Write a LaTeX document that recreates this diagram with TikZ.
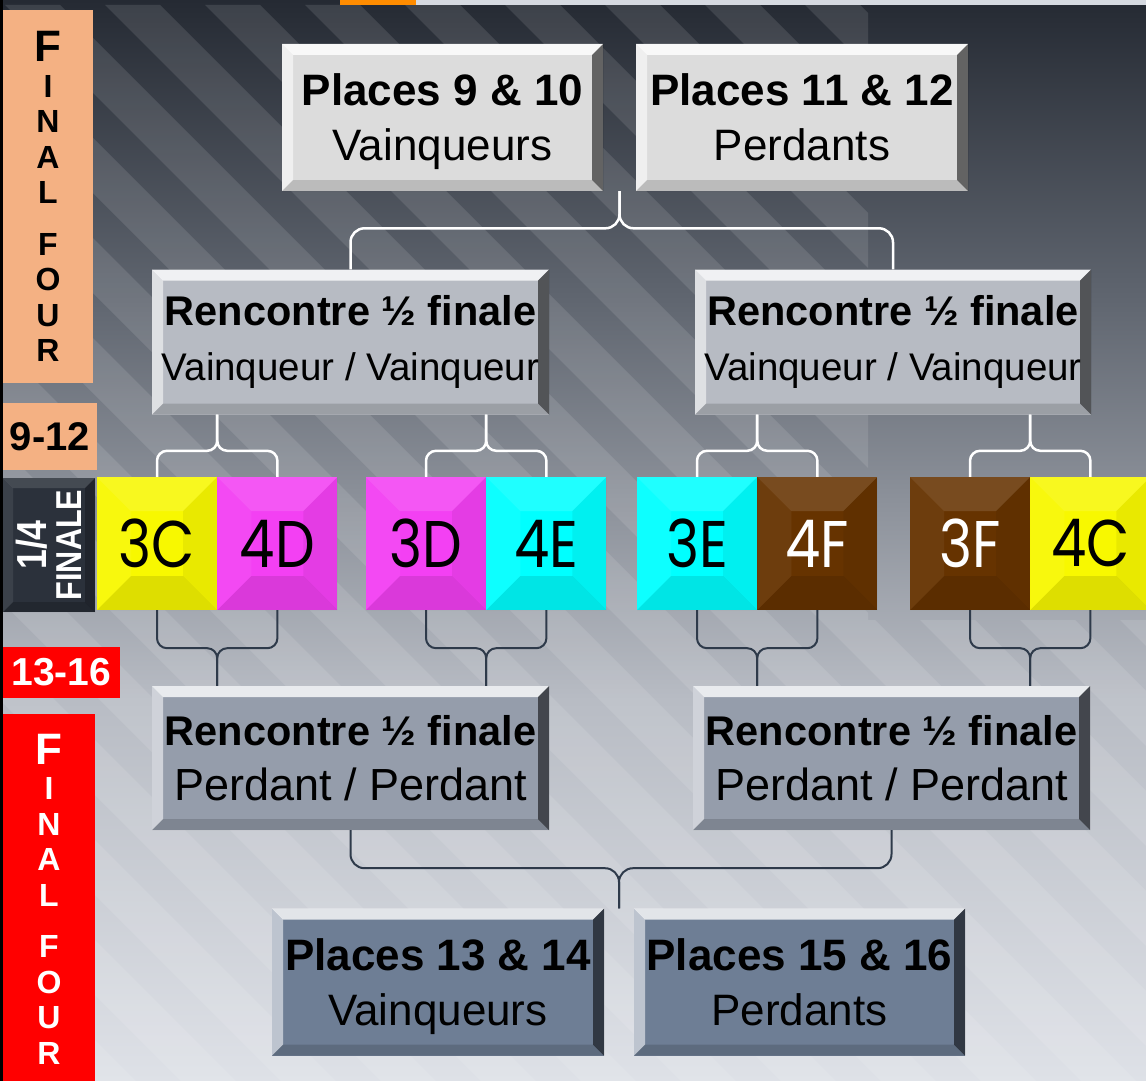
\documentclass[tikz,border=0pt]{standalone}
\usepackage{fontspec}
\setmainfont{Liberation Sans}
\newfontfamily\narrowfont[FakeStretch=0.85]{Liberation Sans}
\newfontfamily\tilefont[FakeStretch=0.85]{Poppins}
\usetikzlibrary{calc,positioning}

\definecolor{bgtop}{RGB}{37,42,51}
\definecolor{bgup}{RGB}{96,102,112}
\definecolor{bgmid}{RGB}{184,188,196}
\definecolor{bgbot}{RGB}{222,225,231}
\definecolor{boxlight}{RGB}{220,220,220}
\definecolor{boxmid}{RGB}{183,187,195}
\definecolor{boxdark}{RGB}{149,157,171}
\definecolor{boxslate}{RGB}{110,126,149}
\definecolor{tyellow}{RGB}{248,248,0}
\definecolor{tmagenta}{RGB}{243,64,243}
\definecolor{tcyan}{RGB}{0,255,255}
\definecolor{tbrown}{RGB}{102,51,0}
\definecolor{sideorange}{RGB}{244,177,131}
\definecolor{sidered}{RGB}{255,0,0}
\definecolor{sidenavy}{RGB}{43,49,59}
\definecolor{bracedark}{RGB}{46,58,74}
\definecolor{topline}{RGB}{214,218,225}
\definecolor{toporange}{RGB}{255,140,0}

\newcommand*{\xmax}{1146}
\newcommand*{\ymax}{1081}

% bevel: depth, top, left, right, bottom
\newcommand*{\bevelpic}[5]{%
	\coordinate (bnw) at (path picture bounding box.north west);
	\coordinate (bne) at (path picture bounding box.north east);
	\coordinate (bsw) at (path picture bounding box.south west);
	\coordinate (bse) at (path picture bounding box.south east);
	\fill[white,opacity=#2] (bnw) -- (bne) -- ([shift={(-#1,-#1)}]bne) -- ([shift={(#1,-#1)}]bnw) -- cycle;
	\fill[white,opacity=#3] (bnw) -- ([shift={(#1,-#1)}]bnw) -- ([shift={(#1,#1)}]bsw) -- (bsw) -- cycle;
	\fill[black,opacity=#4] (bne) -- (bse) -- ([shift={(-#1,#1)}]bse) -- ([shift={(-#1,-#1)}]bne) -- cycle;
	\fill[black,opacity=#5] (bsw) -- ([shift={(#1,#1)}]bsw) -- ([shift={(-#1,#1)}]bse) -- (bse) -- cycle;
}
\newcommand*{\nodepth}[1]{\raisebox{0pt}[\height][0pt]{#1}}

\begin{document}
\begin{tikzpicture}
[
	x=1pt,
	y=-1pt,
	box/.style={fill=#1,inner sep=0pt,align=center,font=\fontsize{44}{55}\selectfont,
		path picture={\bevelpic{11pt}{.8}{.55}{.55}{.15}}},
	tile/.style={fill=#1,inner sep=0pt,minimum width=120pt,minimum height=133pt,
		font=\tilefont\fontsize{66}{66}\selectfont,
		path picture={\bevelpic{34pt}{.12}{.05}{.06}{.1}}},
	side/.style={fill=#1,inner sep=0pt,align=center},
	wbrace/.style={draw=white,line width=2.5pt,rounded corners=14pt},
	dbrace/.style={draw=bracedark,line width=2pt,rounded corners=14pt}
]

	\useasboundingbox (0,0) rectangle (\xmax,\ymax);

	% background
	\shade[top color=bgtop,bottom color=bgup] (0,0) rectangle (\xmax,300);
	\shade[top color=bgup,bottom color=bgmid] (0,300) rectangle (\xmax,700);
	\shade[top color=bgmid,bottom color=bgbot] (0,700) rectangle (\xmax,\ymax);
	\begin{scope}
		\clip (3,5) -- (868,5) -- (868,620) -- (\xmax,620) -- (\xmax,\ymax) -- (3,\ymax) -- cycle;
		\foreach \i in {-11,...,9} {
			\fill[white,opacity=.11] (\i*100,0) -- ++(55,0) -- ++(1081,1081) -- ++(-55,0) -- cycle;
		}
	\end{scope}
	\fill[topline] (416,0) rectangle (\xmax,5);
	\fill[toporange] (340,0) rectangle (416,5);

	% left column
	\node[side=sideorange,minimum width=90pt,minimum height=373pt,
		font=\bfseries\fontsize{32}{35.5}\selectfont] (ff9) at (48,196.5)
		{{\fontsize{44}{35.5}\selectfont F}\\I\\N\\A\\L\\[16pt]F\\O\\U\\R};
	\node[side=sideorange,minimum width=94pt,minimum height=67pt,
		font=\bfseries\fontsize{40}{40}\selectfont] (r912) at (50,436.5) {9-12};
	\node[side=sidenavy,minimum width=92pt,minimum height=134pt,
		path picture={\bevelpic{10pt}{.12}{.08}{.25}{.2}}] (qf) at (49,545) {};
	\node[rotate=90,align=center,text=white,
		font=\narrowfont\bfseries\fontsize{36}{35}\selectfont] (qftext) at (qf.center)
		{{\fontsize{42}{35}\selectfont 1/4}\\FINALE};
	\node[side=sidered,minimum width=117pt,minimum height=51pt,text=white,
		font=\bfseries\fontsize{39}{39}\selectfont] (r1316) at (61.5,672.5) {13-16};
	\node[side=sidered,minimum width=92pt,minimum height=370pt,text=white,
		font=\bfseries\fontsize{32}{35.5}\selectfont] (ff13) at (49,899)
		{{\fontsize{44}{35.5}\selectfont F}\\I\\N\\A\\L\\[16pt]F\\O\\U\\R};
	\draw[line width=3pt] (1.5,0) -- (1.5,\ymax);

	% places 9 to 12
	\node[box=boxlight,minimum width=321pt,minimum height=147pt] (p910) at (442.5,117.5)
		{{\bfseries Places 9 \& 10}\\\nodepth{Vainqueurs}};
	\node[box=boxlight,minimum width=332pt,minimum height=147pt] (p1112) at (802,117.5)
		{{\bfseries Places 11 \& 12}\\Perdants};

	% semi finals, winners
	\node[box=boxmid,minimum width=397pt,minimum height=145pt,font=\fontsize{41.5}{55}\selectfont] (sv1) at (350.5,342)
		{{\bfseries Rencontre ½ finale}\\{\fontsize{38.5}{55}\selectfont Vainqueur / Vainqueur}};
	\node[box=boxmid,minimum width=396pt,minimum height=145pt,font=\fontsize{41.5}{55}\selectfont] (sv2) at (893,342)
		{{\bfseries Rencontre ½ finale}\\{\fontsize{38.5}{55}\selectfont Vainqueur / Vainqueur}};

	% quarter finals
	\node[tile=tyellow] (s3c) at (157,543.5) {3C};
	\node[tile=tmagenta,right=0pt of s3c] (s4d) {4D};
	\node[tile=tmagenta] (s3d) at (426,543.5) {3D};
	\node[tile=tcyan,right=0pt of s3d] (s4e) {4E};
	\node[tile=tcyan] (s3e) at (697,543.5) {3E};
	\node[tile=tbrown,text=white,right=0pt of s3e] (s4f) {4F};
	\node[tile=tbrown,text=white] (s3f) at (970,543.5) {3F};
	\node[tile=tyellow,right=0pt of s3f] (s4c) {4C};

	% semi finals, losers
	\node[box=boxdark,minimum width=397pt,minimum height=144pt,font=\fontsize{41.5}{55}\selectfont] (sp1) at (350.5,758)
		{{\bfseries Rencontre ½ finale}\\{\fontsize{45}{55}\selectfont Perdant / Perdant}};
	\node[box=boxdark,minimum width=397pt,minimum height=144pt,font=\fontsize{41.5}{55}\selectfont] (sp2) at (891.5,758)
		{{\bfseries Rencontre ½ finale}\\{\fontsize{45}{55}\selectfont Perdant / Perdant}};

	% places 13 to 16
	\node[box=boxslate,minimum width=332pt,minimum height=147pt] (p1314) at (438,982)
		{{\bfseries Places 13 \& 14}\\\nodepth{Vainqueurs}};
	\node[box=boxslate,minimum width=331pt,minimum height=147pt] (p1516) at (799.5,982)
		{{\bfseries Places 15 \& 16}\\Perdants};

	% braces
	\coordinate (tup) at ($(p910.south east)!.5!(p1112.south west)$);
	\draw[wbrace] (sv1.north) -- ++(0,-41) -| (tup);
	\draw[wbrace] (sv2.north) -- ++(0,-41) -| (tup);
	\coordinate (tdown) at ($(p1314.north east)!.5!(p1516.north west)$);
	\draw[dbrace] (sp1.south) -- ++(0,38) -| (tdown);
	\draw[dbrace] (sp2.south) -- ++(0,38) -| (tdown);
	\foreach \a/\b/\s/\t [count=\k] in {s3c/s4d/sv1/sp1,s3d/s4e/sv1/sp1,s3e/s4f/sv2/sp2,s3f/s4c/sv2/sp2} {
		\coordinate (m\k) at ($(\a.north)!.5!(\b.north)$);
		\draw[wbrace,rounded corners=10pt] (\a.north) -- ++(0,-26) -| (m\k |- \s.south);
		\draw[wbrace,rounded corners=10pt] (\b.north) -- ++(0,-26) -| (m\k |- \s.south);
		\draw[dbrace,rounded corners=10pt] (\a.south) -- ++(0,38) -| (m\k |- \t.north);
		\draw[dbrace,rounded corners=10pt] (\b.south) -- ++(0,38) -| (m\k |- \t.north);
	}

\end{tikzpicture}
\end{document}
